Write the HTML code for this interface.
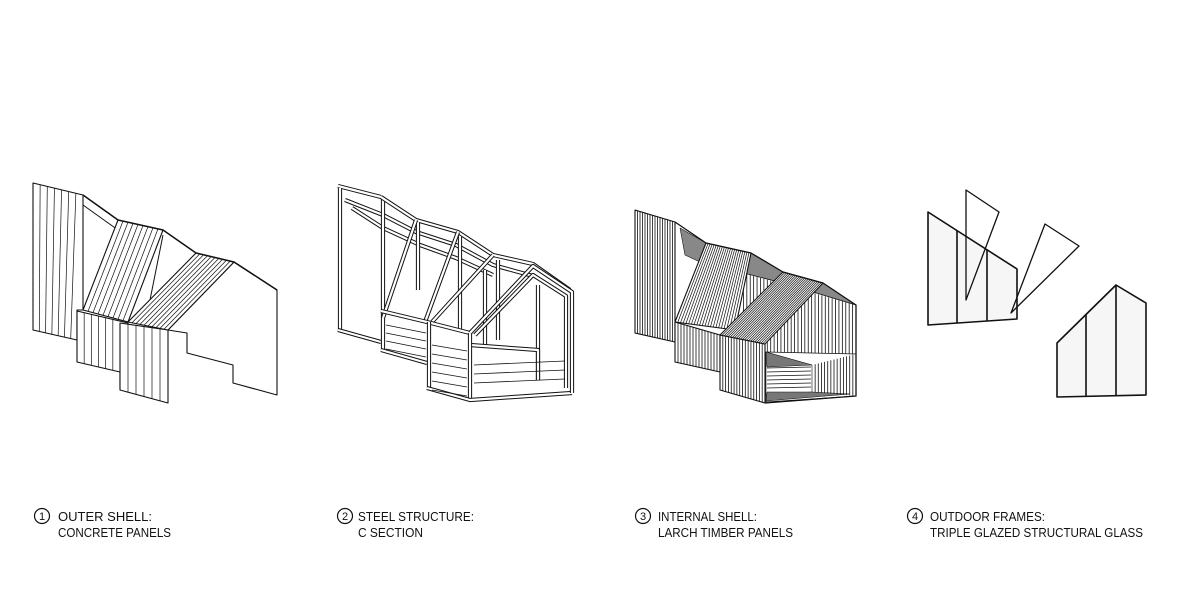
<!DOCTYPE html>
<html><head><meta charset="utf-8"><style>
html,body{margin:0;padding:0;background:#fff;width:1200px;height:600px;overflow:hidden}
svg{display:block}
text{font-family:"Liberation Sans",Arial,sans-serif;font-size:13px;fill:#111}
</style></head><body>
<svg id="s" width="1200" height="600" viewBox="0 0 1200 600" xmlns="http://www.w3.org/2000/svg">
<g id="g" fill="none" stroke="#111" stroke-width="1" stroke-linejoin="round"></g>
<g fill="none" stroke="#111" stroke-width="1.2">
<circle cx="42" cy="516" r="7.5"/><circle cx="345" cy="516" r="7.5"/><circle cx="643" cy="516" r="7.5"/><circle cx="915" cy="516" r="7.5"/>
</g>
<g text-anchor="middle">
<text x="42" y="520" style="font-size:11px">1</text><text x="345" y="520" style="font-size:11px">2</text><text x="643" y="520" style="font-size:11px">3</text><text x="915" y="520" style="font-size:11px">4</text>
</g>
<text x="58" y="521" textLength="94" lengthAdjust="spacingAndGlyphs">OUTER SHELL:</text>
<text x="58" y="537" textLength="113" lengthAdjust="spacingAndGlyphs">CONCRETE PANELS</text>
<text x="358" y="521" textLength="116" lengthAdjust="spacingAndGlyphs">STEEL STRUCTURE:</text>
<text x="358" y="537" textLength="65" lengthAdjust="spacingAndGlyphs">C SECTION</text>
<text x="658" y="521" textLength="99" lengthAdjust="spacingAndGlyphs">INTERNAL SHELL:</text>
<text x="658" y="537" textLength="135" lengthAdjust="spacingAndGlyphs">LARCH TIMBER PANELS</text>
<text x="930" y="521" textLength="115" lengthAdjust="spacingAndGlyphs">OUTDOOR FRAMES:</text>
<text x="930" y="537" textLength="213" lengthAdjust="spacingAndGlyphs">TRIPLE GLAZED STRUCTURAL GLASS</text>
</svg>
<script>
var g=document.getElementById('g'),NS='http://www.w3.org/2000/svg';
function el(t,a){var e=document.createElementNS(NS,t);for(var k in a)e.setAttribute(k,a[k]);g.appendChild(e);return e;}
function poly(p,fill,sw){return el('polygon',{points:p.map(function(q){return q.join(',')}).join(' '),fill:fill||'#fff','stroke-width':sw||1.1});}
function pl(p,sw,col){return el('polyline',{points:p.map(function(q){return q.join(',')}).join(' '),'stroke-width':sw||1,stroke:col||'#111',fill:'none'});}
function L(a,b,sw,col){return pl([a,b],sw,col);}
function lerp(a,b,t){return [a[0]+(b[0]-a[0])*t,a[1]+(b[1]-a[1])*t];}
function stripes(p0,p1,q0,q1,n,sw,col){for(var i=1;i<n;i++){var t=i/n;L(lerp(p0,p1,t),lerp(q0,q1,t),sw||0.8,col);}}
function bar(p){pl(p,4.2,'#111');pl(p,2.2,'#fff');}

// ---------- Drawing 1 ----------
poly([[83,195],[118,220],[163,230],[196,253],[234,262],[277,290],[277,395],[233,383],[233,365],[187,353],[187,333],[168,330],[168,403],[120,390],[120,372],[77,360],[77,340],[33,330],[33,183]],'#fff',0.1);
L([83,205],[118,230]);L([163,235],[150,300]);L([196,262],[234,270]);
poly([[234,262],[277,290],[277,395],[233,383],[233,365],[187,353],[187,333],[168,330]],'#fff',1.1);
poly([[33,183],[83,195],[83,310],[77,310],[77,340],[33,330]]);
stripes([33,183],[83,195],[33,330],[77,340],7,0.7);
poly([[77,311],[128,323],[128,388],[120,388],[120,372],[77,362]]);
stripes([77,311],[120,321],[77,362],[120,372],6,0.7);
poly([[120,323],[168,330],[168,403],[120,390]]);
stripes([120,323],[168,330],[120,390],[168,403],6,0.7);
poly([[118,220],[163,230],[128,322],[83,310]]);
stripes([118,220],[163,230],[83,310],[128,322],9,0.7);
poly([[196,253],[234,262],[168,330],[128,322]]);
stripes([196,253],[234,262],[128,322],[168,330],10,0.7);
pl([[83,195],[118,220],[163,230],[196,253],[234,262],[277,290]],1.5);

// ---------- Drawing 2 ----------
bar([[338,186],[381,197]]);bar([[340,188],[340,330]]);bar([[338,330],[381,342]]);
bar([[345,200],[383,215],[416,232],[456,245],[493,265],[533,276]]);
bar([[352,208],[383,228],[420,245],[456,258],[493,275]]);
bar([[383,197],[383,350]]);
bar([[381,197],[416,220],[458,232],[493,255],[533,264],[570,290]]);
bar([[418,222],[418,290]]);bar([[460,236],[460,330]]);bar([[485,270],[485,345]]);bar([[498,260],[498,340]]);
bar([[538,285],[538,380]]);bar([[470,345],[538,350],[538,380]]);
bar([[416,220],[383,318]]);bar([[458,232],[425,322]]);bar([[493,255],[432,322]]);
bar([[381,311],[427,322]]);bar([[381,350],[427,363]]);
for(var y=325;y<355;y+=8)L([386,y],[426,y+8],0.8);
bar([[427,322],[470,333]]);bar([[429,322],[429,388]]);bar([[470,333],[470,400]]);
bar([[427,388],[470,400],[572,393]]);bar([[470,333],[533,266],[572,292],[572,393]]);
bar([[475,335],[533,275],[566,296],[566,388]]);
for(var y=345;y<392;y+=9){L([432,y],[467,y+6],0.8);}
for(var y=365;y<392;y+=9){L([474,y],[565,y-4],0.8);}

// ---------- Drawing 3 ----------
poly([[680,228],[706,243],[700,262],[685,255]],'#888',0.6);
poly([[751,253],[783,272],[776,285],[745,275]],'#888',0.6);
poly([[823,283],[856,305],[800,300]],'#888',0.6);
poly([[740,272],[790,285],[856,305],[856,396],[765,403],[765,344],[735,330]],'#fff',0.8);
stripes([740,272],[856,305],[740,340],[856,396],34,0.8);
poly([[635,210],[675,222],[675,342],[635,333]]);
stripes([635,210],[675,222],[635,333],[675,342],16,0.8);
poly([[675,322],[720,335],[720,372],[675,362]]);
stripes([675,322],[720,335],[675,362],[720,372],15,0.8);
poly([[720,335],[765,344],[765,403],[720,390]]);
stripes([720,335],[765,344],[720,390],[765,403],16,0.8);
poly([[766,352],[856,354],[856,396],[766,402]],'#fff',0.8);
poly([[766,352],[812,365],[812,392],[766,395]],'#fff',0.6);
for(var y=368;y<392;y+=4)L([767,y],[811,y-1],0.7);
poly([[766,352],[812,365],[767,367]],'#777',0.5);
poly([[767,392],[812,392],[850,394],[766,401]],'#777',0.5);
stripes([812,365],[856,354],[812,392],[856,396],14,0.8);
poly([[706,243],[751,253],[735,330],[675,322]]);
stripes([706,243],[751,253],[675,322],[735,330],22,0.7);
poly([[783,272],[823,283],[765,344],[720,335]]);
stripes([783,272],[823,283],[720,335],[765,344],22,0.7);
pl([[675,222],[706,243],[751,253],[783,272],[823,283],[856,305],[856,396],[765,403]],1.3);

// ---------- Drawing 4 ----------
poly([[928,212],[1017,269],[1017,319],[928,325]],'#f6f6f6',1.6);
L([957,231],[957,323],1.6);L([987,250],[987,321],1.6);
poly([[966,190],[999,212],[966,300]],'none',1.3);
poly([[1045,224],[1079,246],[1011,313]],'none',1.3);
poly([[1057,343],[1116,285],[1146,303],[1146,395],[1057,397]],'#f6f6f6',1.6);
L([1086,314],[1086,396],1.6);L([1116,285],[1116,395],1.6);
</script>
</body></html>
